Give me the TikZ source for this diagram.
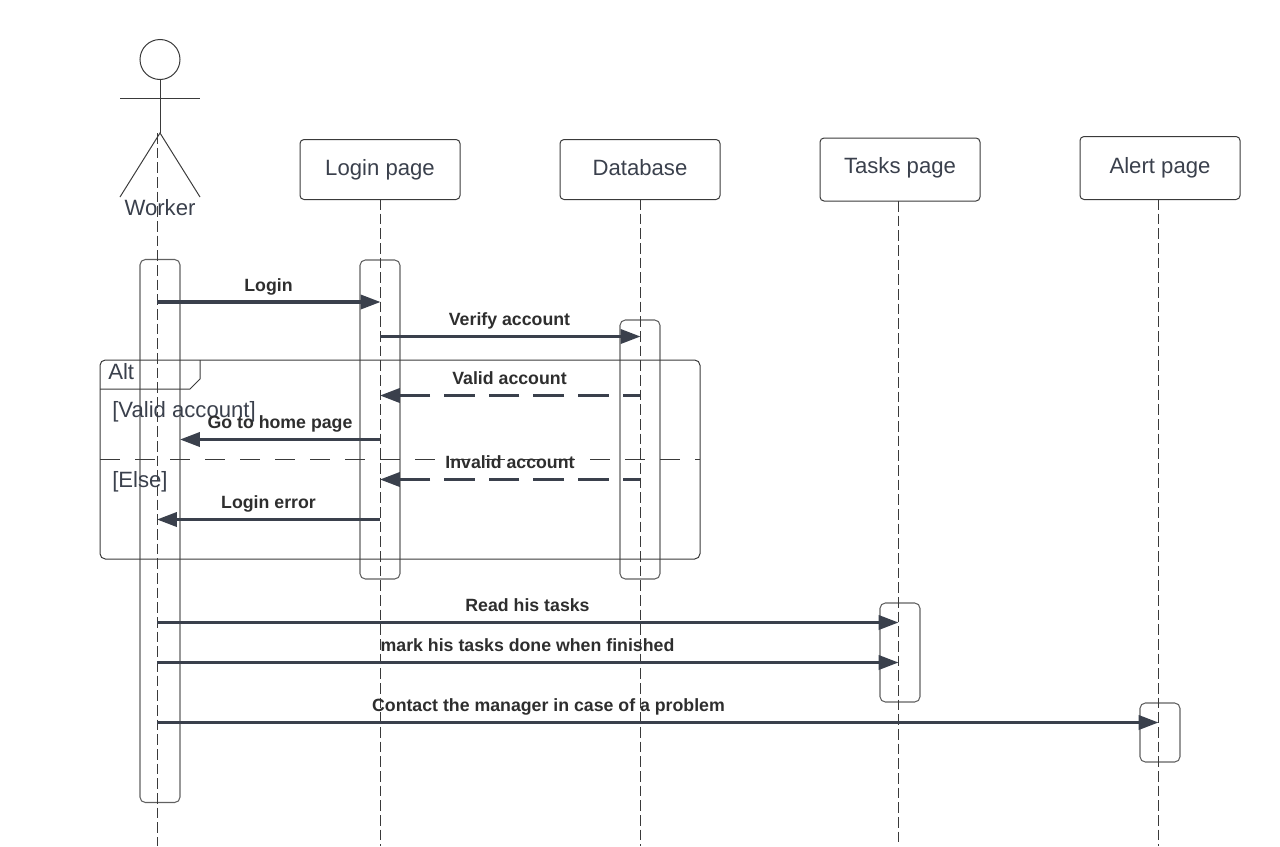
\documentclass[tikz,border=0pt]{standalone}
\usepackage{fontspec}
\setmainfont{Liberation Sans}
\usetikzlibrary{arrows.meta}
\definecolor{ink}{HTML}{3A404C}
\definecolor{edge}{HTML}{3A3A3A}
\begin{document}
\begin{tikzpicture}[x=0.75pt, y=-0.75pt,
    head/.style = {draw=edge, line width=0.75pt, rounded corners=3pt, minimum width=120pt, minimum height=45pt, inner sep=0pt, text=ink, text height=12pt, text depth=3.5pt, font=\fontsize{16.6}{20}\selectfont},
    bar/.style = {draw=edge!80, line width=0.8pt, rounded corners=4pt, minimum width=30pt, inner sep=0pt},
    life/.style = {draw=edge, line width=0.75pt, dash pattern=on 8pt off 3pt},
    msg/.style = {draw=ink, line width=2.6pt, -{Triangle[length=15pt, width=10.5pt]}, shorten >=-0.5pt},
    back/.style = {msg, dash pattern=on 23pt off 10.5pt, dash phase=10pt},
    lbl/.style = {text=black!82, inner sep=0pt, text height=10pt, text depth=3pt, font=\fontsize{13.3}{16}\selectfont\bfseries},
    txt/.style = {text=ink, inner sep=0pt, font=\fontsize{16.6}{20}\selectfont}]
        \useasboundingbox (0,0) rectangle (1280,846);
        % actor
        \node[draw=edge, line width=0.75pt, circle, minimum size=30pt, inner sep=0pt] (face) at (160,59.5) {};
        \coordinate (hip) at (160,133);
        \coordinate (armL) at (120,98.5);
        \coordinate (armR) at (200,98.5);
        \coordinate (footL) at (120,197);
        \coordinate (footR) at (200,197);
        \draw[edge, line width=0.75pt] (face) -- (hip);
        \draw[edge, line width=0.75pt] (armL) -- (armR);
        \draw[edge, line width=0.75pt] (footL) -- (hip) -- (footR);
        \node[txt] (worker) at (160,207.5) {Worker};
        % heads
        \node[head] (login) at (380,169.5) {Login page};
        \node[head] (database) at (640,169.5) {Database};
        \node[head, minimum height=47.25pt, text depth=5.3pt] (tasks) at (900,169.5) {Tasks page};
        \node[head, minimum height=47.25pt, text depth=4.5pt] (alert) at (1160,168) {Alert page};
        % activation bars
        \node[bar, minimum height=407.25pt] (workerbar) at (160,531) {};
        \node[bar, minimum height=239.25pt] (loginbar) at (380,419.5) {};
        \node[bar, minimum height=194.25pt] (databasebar) at (640,449.5) {};
        \node[bar, minimum height=74.25pt] (tasksbar) at (900,652.5) {};
        \node[bar, minimum height=44.25pt] (alertbar) at (1160,732.5) {};
        % lifelines
        \coordinate (workertop) at (157,133);
        \coordinate (workerend) at (157,846);
        \coordinate (logintop) at (380,199);
        \coordinate (loginend) at (380,846);
        \coordinate (databasetop) at (640.5,199);
        \coordinate (databaseend) at (640.5,846);
        \coordinate (taskstop) at (898,201);
        \coordinate (tasksend) at (898,846);
        \coordinate (alerttop) at (1158.5,199);
        \coordinate (alertend) at (1158.5,846);
        \draw[life] (workertop) -- (workerend);
        \draw[life] (logintop) -- (loginend);
        \draw[life] (databasetop) -- (databaseend);
        \draw[life] (taskstop) -- (tasksend);
        \draw[life] (alerttop) -- (alertend);
        % alt frame
        \node[draw=edge, line width=0.75pt, rounded corners=4pt, minimum width=450pt, minimum height=149.25pt, inner sep=0pt] (frame) at (400,459.5) {};
        \coordinate (tabA) at (200,360);
        \coordinate (tabB) at (200,379);
        \coordinate (tabC) at (190,389);
        \coordinate (tabD) at (100,389);
        \draw[edge, line width=0.75pt] (tabA) -- (tabB) -- (tabC) -- (tabD);
        \coordinate (splitL) at (100,459.5);
        \coordinate (splitR) at (700,459.5);
        \draw[edge, line width=0.75pt, dash pattern=on 15pt off 11.25pt] (splitL) -- (splitR);
        \node[txt, anchor=west] (alt) at (108,372) {Alt};
        \node[txt, anchor=west] (valid) at (112,411.5) {[Valid account]};
        \node[txt, anchor=west] (else) at (112,481.5) {[Else]};
        % messages
        \coordinate (m1a) at (157,302);
        \coordinate (m1b) at (380,302);
        \coordinate (m2a) at (380,336.5);
        \coordinate (m2b) at (640,336.5);
        \coordinate (m3a) at (640,395.5);
        \coordinate (m3b) at (380.5,395.5);
        \coordinate (m4a) at (380,439.5);
        \coordinate (m4b) at (180.5,439.5);
        \coordinate (m5a) at (640,479.5);
        \coordinate (m5b) at (380.5,479.5);
        \coordinate (m6a) at (380,519.5);
        \coordinate (m6b) at (157.5,519.5);
        \coordinate (m7a) at (157,622.5);
        \coordinate (m7b) at (898,622.5);
        \coordinate (m8a) at (157,662.5);
        \coordinate (m8b) at (898,662.5);
        \coordinate (m9a) at (157,722.5);
        \coordinate (m9b) at (1158,722.5);
        \draw[msg] (m1a) -- (m1b);
        \draw[msg] (m2a) -- (m2b);
        \draw[back] (m3a) -- (m3b);
        \draw[msg] (m4a) -- (m4b);
        \draw[back] (m5a) -- (m5b);
        \draw[msg] (m6a) -- (m6b);
        \draw[msg] (m7a) -- (m7b);
        \draw[msg] (m8a) -- (m8b);
        \draw[msg] (m9a) -- (m9b);
        % labels
        \node[lbl] (l1) at (268.5,287) {Login};
        \node[lbl] (l2) at (509.5,321) {Verify account};
        \node[lbl] (l3) at (509.5,380) {Valid account};
        \node[lbl] (l4) at (280,424) {Go to home page};
        \node[lbl] (l5) at (510,464) {Invalid account};
        \node[lbl] (l6) at (268.5,504) {Login error};
        \node[lbl] (l7) at (527.5,607) {Read his tasks};
        \node[lbl] (l8) at (527.5,647) {mark his tasks done when finished};
        \node[lbl] (l9) at (548.5,707) {Contact the manager in case of a problem};
    \end{tikzpicture}
\end{document}
